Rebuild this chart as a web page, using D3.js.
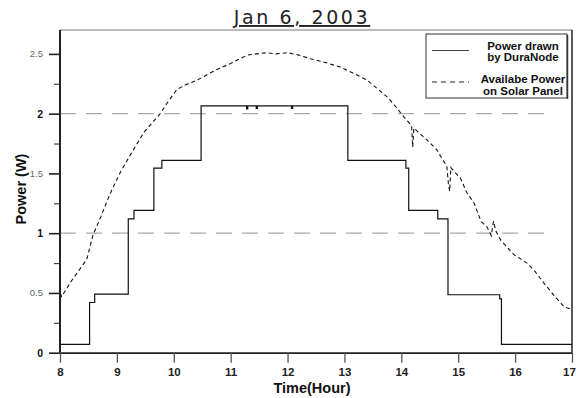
<!DOCTYPE html>
<html>
<head>
<meta charset="utf-8">
<script src="https://cdn.jsdelivr.net/npm/d3@7"></script>
<style>
body { margin: 0; background: #fff; }
svg { display: block; font-family: "Liberation Sans", Arial, sans-serif; }
</style>
</head>
<body>
<script>
// x ticks and y ticks
var hourTicks = [8, 9, 10, 11, 12, 13, 14, 15, 16, 17];
var powerTicks = [0, 0.5, 1, 1.5, 2, 2.5];
var powerMinor = [0.25, 0.75, 1.25, 1.75, 2.25];
var gridLevels = [1, 2];

// power drawn by DuraNode (step)
var drawnTime = [8.0, 8.52, 8.61, 9.20, 9.30, 9.65, 9.79, 10.48, 11.28, 11.30, 11.45, 11.47, 12.07, 12.09, 13.06, 14.08, 14.13, 14.64, 14.82, 15.73, 15.76, 17.0];
var drawnPower = [0.07, 0.42, 0.49, 1.12, 1.19, 1.545, 1.61, 2.065, 2.04, 2.065, 2.045, 2.065, 2.045, 2.065, 1.61, 1.545, 1.19, 1.12, 0.485, 0.45, 0.07, 0.07];

// available power on solar panel
var availTime = [8.00, 8.03, 8.20, 8.35, 8.47, 8.58, 8.72, 8.88, 9.05, 9.23, 9.47, 9.76, 9.90, 10.05, 10.20, 10.41, 10.60, 10.76, 11.00, 11.29, 11.45, 11.64, 11.80, 12.00, 12.20, 12.40, 12.65, 12.93, 13.15, 13.40, 13.60, 13.75, 13.90, 14.04, 14.18, 14.20, 14.22, 14.31, 14.45, 14.62, 14.72, 14.80, 14.83, 14.85, 14.87, 14.92, 15.04, 15.15, 15.28, 15.40, 15.51, 15.58, 15.62, 15.66, 15.75, 15.98, 16.21, 16.35, 16.51, 16.70, 16.86, 17.0];
var availPower = [0.50, 0.47, 0.60, 0.70, 0.78, 0.985, 1.14, 1.33, 1.50, 1.65, 1.84, 2.00, 2.10, 2.20, 2.24, 2.28, 2.33, 2.37, 2.42, 2.49, 2.50, 2.51, 2.50, 2.51, 2.49, 2.46, 2.43, 2.39, 2.34, 2.28, 2.20, 2.14, 2.06, 1.975, 1.90, 1.72, 1.88, 1.84, 1.78, 1.70, 1.62, 1.56, 1.40, 1.35, 1.55, 1.52, 1.46, 1.34, 1.25, 1.10, 1.05, 0.98, 1.10, 1.02, 0.94, 0.82, 0.75, 0.68, 0.58, 0.47, 0.385, 0.36];

var W = 576, H = 398;
var pL = 60, pR = 572, pT = 30, pB = 352.7;

var svg = d3.select('body').append('svg').attr('width', W).attr('height', H);

var x = d3.scaleLinear().domain([8, 17]).range([pL, pR]);
var y = d3.scaleLinear().domain([0, 2.7]).range([pB, pT]);

// title
svg.append('text').attr('x', 302).attr('y', 24).attr('text-anchor', 'middle')
    .attr('font-family', '"DejaVu Sans", sans-serif').attr('font-size', 19)
    .attr('letter-spacing', 2.6).attr('fill', '#222')
    .attr('text-decoration', 'underline')
    .text('Jan 6, 2003');

// frame
svg.append('line').attr('x1', pL).attr('x2', pR).attr('y1', pT).attr('y2', pT)
    .attr('stroke', '#777').attr('stroke-width', 1.2);
svg.append('line').attr('x1', pR).attr('x2', pR).attr('y1', pT).attr('y2', pB)
    .attr('stroke', '#222').attr('stroke-width', 1.5);

// dashed grid
svg.selectAll('.grid').data(gridLevels).enter().append('line').attr('class', 'grid')
    .attr('x1', pL).attr('x2', x(16.55))
    .attr('y1', d => y(d)).attr('y2', d => y(d))
    .attr('stroke', '#aaa').attr('stroke-width', 1.2).attr('stroke-dasharray', '16,10');

// series
var drawn = drawnTime.map((t, i) => [t, drawnPower[i]]);
var avail = availTime.map((t, i) => [t, availPower[i]]);

svg.append('path').datum(drawn)
    .attr('d', d3.line().x(d => x(d[0])).y(d => y(d[1])).curve(d3.curveStepAfter))
    .attr('fill', 'none').attr('stroke', '#111').attr('stroke-width', 1.2);

svg.append('path').datum(avail)
    .attr('d', d3.line().x(d => x(d[0])).y(d => y(d[1])))
    .attr('fill', 'none').attr('stroke', '#111').attr('stroke-width', 1.1)
    .attr('stroke-dasharray', '4,3');

// x axis
var xAxis = svg.append('g').attr('transform', 'translate(0,' + pB + ')')
    .call(d3.axisBottom(x).tickValues(hourTicks).tickSize(10).tickSizeOuter(0).tickPadding(5));
xAxis.select('.domain').attr('stroke', '#222').attr('stroke-width', 1.8);
xAxis.selectAll('.tick line').attr('stroke', '#555').attr('stroke-width', 1.3);
xAxis.selectAll('.tick text').attr('font-family', '"Liberation Sans", Arial, sans-serif')
    .attr('font-size', 11.5).attr('font-weight', 'bold').attr('fill', '#222')
    .attr('dx', d => d === 17 ? -3 : 0);

// y axis
var yMinor = svg.append('g').attr('transform', 'translate(' + pL + ',0)')
    .call(d3.axisLeft(y).tickValues(powerMinor).tickSize(6).tickFormat(''));
yMinor.select('.domain').remove();
yMinor.selectAll('.tick line').attr('stroke', '#444').attr('stroke-width', 1.2);

var yAxis = svg.append('g').attr('transform', 'translate(' + pL + ',0)')
    .call(d3.axisLeft(y).tickValues(powerTicks).tickSize(11).tickSizeOuter(0).tickPadding(6)
        .tickFormat(d => String(d)));
yAxis.select('.domain').attr('stroke', '#222').attr('stroke-width', 2).attr('d', 'M0,' + pT + 'V' + pB);
yAxis.selectAll('.tick line').attr('stroke', '#222').attr('stroke-width', 1.6);
yAxis.selectAll('.tick text').attr('font-family', '"Liberation Sans", Arial, sans-serif')
    .attr('font-size', d => d % 1 === 0 ? 10.5 : 9.5)
    .attr('font-weight', d => d % 1 === 0 ? 'bold' : 'normal')
    .attr('fill', d => d % 1 === 0 ? '#111' : '#666');

// axis titles
svg.append('text').attr('x', 312).attr('y', 393).attr('text-anchor', 'middle')
    .attr('font-size', 14.5).attr('font-weight', 'bold').attr('fill', '#111')
    .text('Time(Hour)');
svg.append('text').attr('transform', 'translate(26,189) rotate(-90)').attr('text-anchor', 'middle')
    .attr('font-size', 14.5).attr('font-weight', 'bold').attr('fill', '#111')
    .text('Power (W)');

// legend
var lg = svg.append('g');
lg.append('rect').attr('x', 426).attr('y', 34).attr('width', 141).attr('height', 64)
    .attr('fill', '#fff').attr('stroke', '#333').attr('stroke-width', 1);
lg.append('line').attr('x1', 567.5).attr('x2', 567.5).attr('y1', 35).attr('y2', 99)
    .attr('stroke', '#333').attr('stroke-width', 1.5);
lg.append('line').attr('x1', 432).attr('x2', 469).attr('y1', 50.5).attr('y2', 50.5)
    .attr('stroke', '#444').attr('stroke-width', 1.2);
lg.append('line').attr('x1', 432).attr('x2', 469).attr('y1', 82).attr('y2', 82)
    .attr('stroke', '#222').attr('stroke-width', 1.1).attr('stroke-dasharray', '5,4');
var legendText = [['Power drawn', 49.5], ['by DuraNode', 61], ['Availabe Power', 83], ['on Solar Panel', 95]];
lg.selectAll('.lt').data(legendText).enter().append('text').attr('class', 'lt')
    .attr('x', 523).attr('y', d => d[1]).attr('text-anchor', 'middle')
    .attr('font-size', 11.5).attr('font-weight', 'bold').attr('fill', '#111')
    .text(d => d[0]);
</script>
</body>
</html>
